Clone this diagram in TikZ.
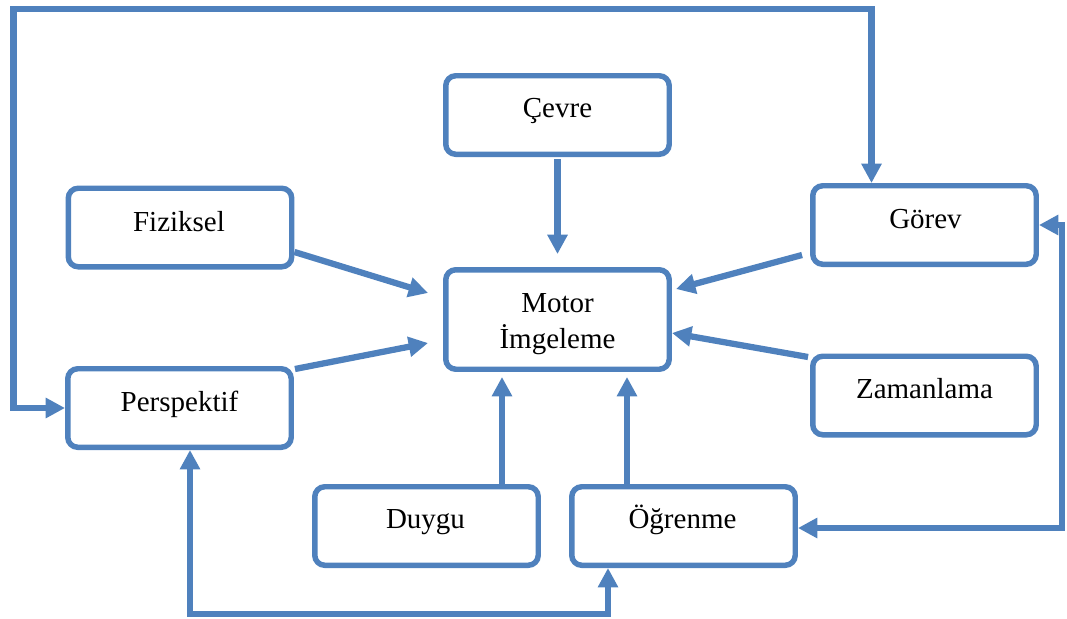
\documentclass[tikz,border=0pt]{standalone}
\usepackage{fontspec}
\setmainfont{Liberation Serif}
\usetikzlibrary{arrows.meta,calc}
\definecolor{ublue}{RGB}{79,129,189}
\begin{document}
\begin{tikzpicture}[x=0.75pt,y=-0.75pt,
  box/.style={draw=ublue, line width=4.1pt, rounded corners=7.5pt, minimum width=167.6pt, minimum height=58.9pt, inner sep=0pt},
  lbl/.style={anchor=base, font=\fontsize{21.75}{26}\selectfont, inner sep=0pt},
  arr/.style={draw=ublue, line width=4.7pt, line cap=butt, -{Triangle[length=14.5pt,width=14.5pt]}},
  darr/.style={draw=ublue, line width=4.7pt, line join=miter, {Triangle[length=14.5pt,width=14.5pt]}-{Triangle[length=14.5pt,width=14.5pt]}}]
\useasboundingbox (0,0) rectangle (1067,618);
% boxes
\node[box] (cevre) at (557.5,115) {};
\node[box, minimum height=74.6pt] (motor) at (557.5,319.5) {};
\node[box] (fiz) at (180,227.5) {};
\node[box] (gorev) at (924.5,225) {};
\node[box] (persp) at (179.5,408) {};
\node[box] (zaman) at (924.5,395.5) {};
\node[box] (duygu) at (426.5,526) {};
\node[box] (ogren) at (683.5,526) {};
% labels
\node[lbl] (cevreT) at (557.5,117) {Çevre};
\node[lbl] (motorT1) at (557.5,312) {Motor};
\node[lbl] (motorT2) at (557.5,348) {İmgeleme};
\node[lbl] (fizT) at (179,231) {Fiziksel};
\node[lbl] (gorevT) at (925.5,228) {Görev};
\node[lbl] (perspT) at (179.5,411) {Perspektif};
\node[lbl] (zamanT) at (924.5,398) {Zamanlama};
\node[lbl] (duyguT) at (425.5,528) {Duygu};
\node[lbl] (ogrenT) at (682.5,528) {Öğrenme};
% helper coordinates
\coordinate (dx) at (502,450);
\coordinate (ox) at (627,450);
\coordinate (c1) at (13.5,9);
\coordinate (c2) at (871.5,9);
\coordinate (c3) at (190,614);
\coordinate (c4) at (608,614);
\coordinate (c5) at (1062,528);
% straight arrows into Motor
\draw[arr, shorten <=1.5pt, shorten >=9.75pt] (cevre.south) -- (motor.north);
\draw[arr, shorten >=3.75pt] (duygu.north -| dx) -- (motor.south -| dx);
\draw[arr, shorten >=3.75pt] (ogren.north -| ox) -- (motor.south -| ox);
\draw[arr] ($(fiz.east)+(0,24.5)$) -- ($(motor.west)+(-15,-26.5)$);
\draw[arr] ($(persp.east)+(1,-39)$) -- ($(motor.west)+(-15,23.5)$);
\draw[arr] ($(gorev.west)+(-8,30)$) -- ($(motor.east)+(4,-30.5)$);
\draw[arr] ($(zaman.west)+(-2,-38.5)$) -- ($(motor.east)+(0,13.5)$);
% loops
\draw[darr] (persp.west) -| (c1) -- (c2) -- (gorev.north -| c2);
\draw[darr] (persp.south -| c3) -- (c3) -- (c4) -- (ogren.south -| c4);
\draw[darr] (gorev.east) -| (c5) -- (ogren.east |- c5);
\end{tikzpicture}
\end{document}
